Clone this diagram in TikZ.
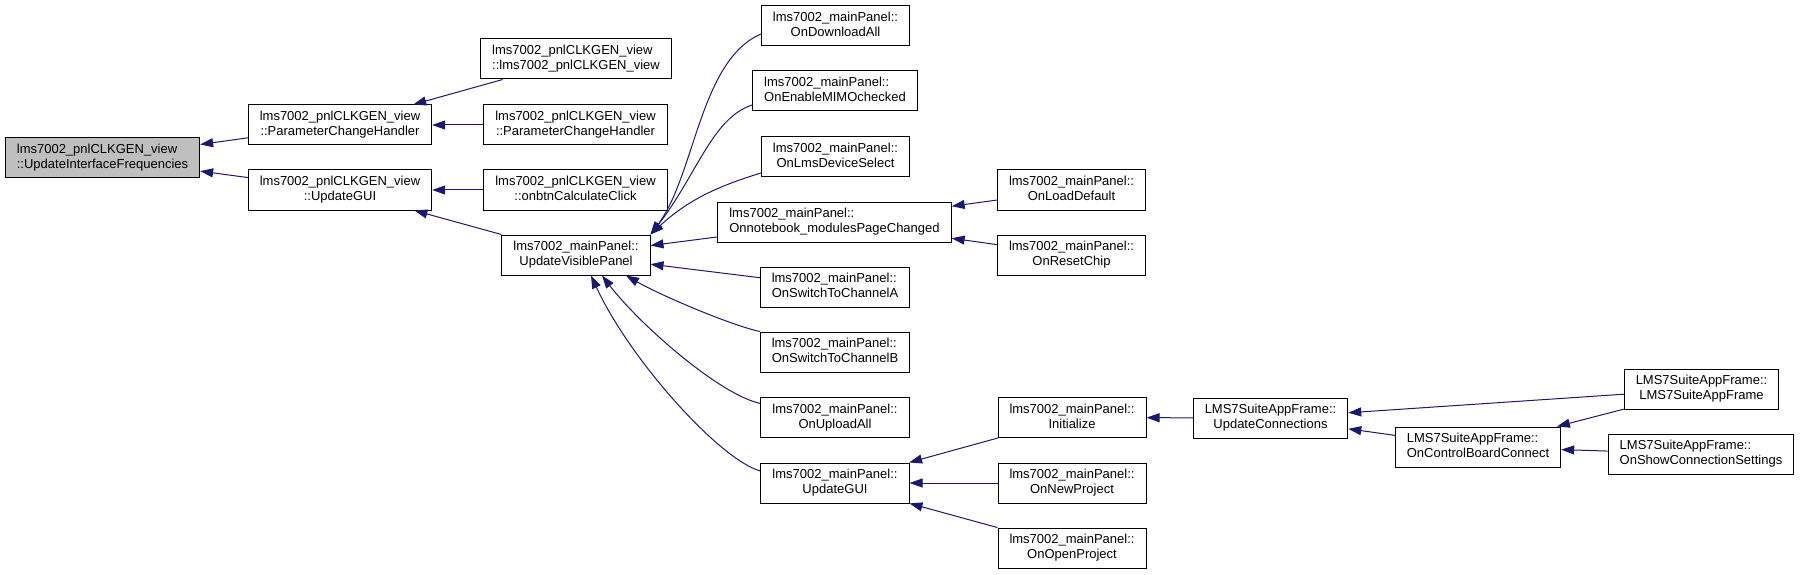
\documentclass[tikz,border=0pt]{standalone}
\usepackage{fontspec}
\setmainfont{Liberation Sans}
\usetikzlibrary{arrows.meta}
\definecolor{edgeblue}{HTML}{191970}
\definecolor{rootgray}{HTML}{BFBFBF}
\newlength\fnwa
\newlength\fnwb
\newcommand{\fnlbl}[2]{\settowidth{\fnwa}{#1}\settowidth{\fnwb}{#2}\ifdim\fnwb>\fnwa\setlength{\fnwa}{\fnwb}\fi\begin{tabular}{@{}c@{}}\makebox[\fnwa][l]{#1}\\#2\end{tabular}}
\begin{document}
\begin{tikzpicture}[x=1pt,y=-1pt,>={Triangle[length=13pt,width=9pt]},
	fn/.style={draw=black,fill=white,line width=1pt,minimum height=40pt,inner xsep=11.5pt,inner ysep=0pt,font=\fontsize{13}{15}\selectfont},
	focus/.style={fn,fill=rootgray},
	call/.style={->,draw=edgeblue,line width=1pt}]
	  \useasboundingbox (0,0) rectangle (1800,575);
	  \node[focus] (root) at (102.5,158) {\fnlbl{lms7002\_pnlCLKGEN\_view}{::UpdateInterfaceFrequencies}};
	  \node[fn] (pch) at (340,125) {\fnlbl{lms7002\_pnlCLKGEN\_view}{::ParameterChangeHandler}};
	  \node[fn] (ugv) at (340,190) {\fnlbl{lms7002\_pnlCLKGEN\_view}{::UpdateGUI}};
	  \node[fn] (ctor) at (576,59) {\fnlbl{lms7002\_pnlCLKGEN\_view}{::lms7002\_pnlCLKGEN\_view}};
	  \node[fn] (pch2) at (575.5,125) {\fnlbl{lms7002\_pnlCLKGEN\_view}{::ParameterChangeHandler}};
	  \node[fn] (calc) at (575.5,190) {\fnlbl{lms7002\_pnlCLKGEN\_view}{::onbtnCalculateClick}};
	  \node[fn] (uvp) at (576,255) {\fnlbl{lms7002\_mainPanel::}{UpdateVisiblePanel}};
	  \node[fn] (dl) at (835.5,26) {\fnlbl{lms7002\_mainPanel::}{OnDownloadAll}};
	  \node[fn] (mimo) at (835,91) {\fnlbl{lms7002\_mainPanel::}{OnEnableMIMOchecked}};
	  \node[fn] (dev) at (835.5,157) {\fnlbl{lms7002\_mainPanel::}{OnLmsDeviceSelect}};
	  \node[fn] (nb) at (834.5,222) {\fnlbl{lms7002\_mainPanel::}{Onnotebook\_modulesPageChanged}};
	  \node[fn] (swa) at (835,287) {\fnlbl{lms7002\_mainPanel::}{OnSwitchToChannelA}};
	  \node[fn] (swb) at (835,352) {\fnlbl{lms7002\_mainPanel::}{OnSwitchToChannelB}};
	  \node[fn] (ua) at (835,417.5) {\fnlbl{lms7002\_mainPanel::}{OnUploadAll}};
	  \node[fn] (ugm) at (835,483) {\fnlbl{lms7002\_mainPanel::}{UpdateGUI}};
	  \node[fn] (ld) at (1071.5,190) {\fnlbl{lms7002\_mainPanel::}{OnLoadDefault}};
	  \node[fn] (rc) at (1071.5,255) {\fnlbl{lms7002\_mainPanel::}{OnResetChip}};
	  \node[fn] (init) at (1072,417.5) {\fnlbl{lms7002\_mainPanel::}{Initialize}};
	  \node[fn] (np) at (1072,483) {\fnlbl{lms7002\_mainPanel::}{OnNewProject}};
	  \node[fn] (op) at (1072,548) {\fnlbl{lms7002\_mainPanel::}{OnOpenProject}};
	  \node[fn] (uc) at (1270.5,418) {\fnlbl{LMS7SuiteAppFrame::}{UpdateConnections}};
	  \node[fn] (ocbc) at (1478,447) {\fnlbl{LMS7SuiteAppFrame::}{OnControlBoardConnect}};
	  \node[fn] (appf) at (1701.5,389) {\fnlbl{LMS7SuiteAppFrame::}{LMS7SuiteAppFrame}};
	  \node[fn] (oscs) at (1701,454) {\fnlbl{LMS7SuiteAppFrame::}{OnShowConnectionSettings}};
	  \draw[call] (pch) -- (root);
	  \draw[call] (ugv) -- (root);
	  \draw[call] (ctor) -- (pch);
	  \draw[call] (pch2) -- (pch);
	  \draw[call] (calc) -- (ugv);
	  \draw[call] (uvp) -- (ugv);
	  \draw[call] ([yshift=-8pt]dl.west) .. controls (700,60) and (695,175) .. (uvp.north east);
	  \draw[call] ([yshift=-14pt]mimo.west) .. controls (712,118) and (697,175) .. (uvp.north east);
	  \draw[call] ([yshift=-16pt]dev.west) .. controls (722,185) and (690,198) .. (uvp.north east);
	  \draw[call] (nb) -- (uvp);
	  \draw[call] (swa) -- (uvp);
	  \draw[call] (swb.north west) .. controls (730,325) and (660,295) .. ([xshift=50pt]uvp.south);
	  \draw[call] ([yshift=14pt]ua.west) .. controls (720,395) and (640,325) .. ([xshift=26pt]uvp.south);
	  \draw[call] ([yshift=12pt]ugm.west) .. controls (720,460) and (630,360) .. ([xshift=15pt]uvp.south);
	  \draw[call] (ld) -- (nb);
	  \draw[call] (rc) -- (nb);
	  \draw[call] (init) -- (ugm);
	  \draw[call] (np) -- (ugm);
	  \draw[call] (op) -- (ugm);
	  \draw[call] (uc) -- (init);
	  \draw[call] (appf) -- (uc);
	  \draw[call] (ocbc) -- (uc);
	  \draw[call] (appf) -- (ocbc);
	  \draw[call] (oscs) -- (ocbc);
	\end{tikzpicture}
\end{document}
